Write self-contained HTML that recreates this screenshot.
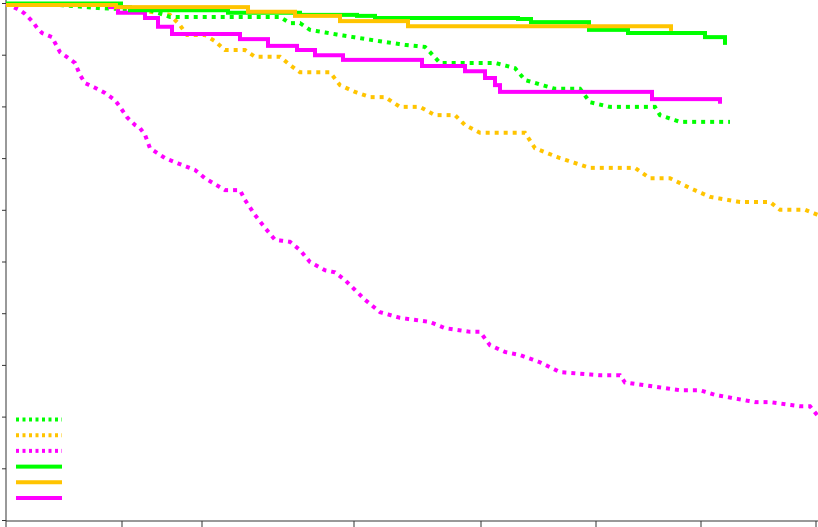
<!DOCTYPE html>
<html><head><meta charset="utf-8"><style>
html,body{margin:0;padding:0;background:#fff;}
svg{display:block;font-family:"Liberation Sans",sans-serif;}
</style></head><body>
<svg id="chart" width="818" height="527" viewBox="0 0 818 527" xmlns="http://www.w3.org/2000/svg"></svg>
<script>
// Data (time in axis units, survival proportion)
const yTicks = [0,0.1,0.2,0.3,0.4,0.5,0.6,0.7,0.8,0.9,1.0];
const xTicks = [0,116,196,348,475,590,695,810];

const greenSolidT = [0,115,124,222,294,351,369,512,525,583,622,699,719];
const greenSolidS = [1.0,0.993,0.987,0.982,0.978,0.976,0.972,0.97,0.964,0.949,0.943,0.935,0.926];
const greenSolidEnd = 719; const greenSolidEndS = 0.92;

const yellowSolidT = [0,110,242,289,334,402];
const yellowSolidS = [0.997,0.993,0.984,0.976,0.966,0.956];
const yellowSolidEnd = 665; const yellowSolidEndS = 0.947;

const magentaSolidT = [0,104,112,139,152,166,234,262,291,309,337,416,459,479,489,494,646];
const magentaSolidS = [1.0,0.993,0.982,0.972,0.955,0.941,0.931,0.918,0.91,0.9,0.891,0.879,0.869,0.856,0.842,0.829,0.815];
const magentaSolidEnd = 714; const magentaSolidEndS = 0.806;

const greenDotT = [0,54,94,144,164,274,284,294,304,334,374,399,419,424,434,489,509,519,549,574,584,604,649,654,674,724];
const greenDotS = [1.0,0.997,0.991,0.987,0.974,0.974,0.962,0.962,0.949,0.939,0.927,0.92,0.916,0.906,0.885,0.885,0.875,0.852,0.835,0.835,0.809,0.8,0.8,0.784,0.771,0.771];

const yellowDotT = [0,104,124,144,164,174,181,199,209,219,239,249,274,284,294,324,334,349,364,379,394,414,429,449,459,474,519,529,554,584,629,644,664,684,704,734,764,774,799,812];
const yellowDotS = [1.0,0.997,0.991,0.984,0.978,0.958,0.939,0.939,0.927,0.91,0.91,0.897,0.897,0.881,0.867,0.867,0.842,0.829,0.819,0.819,0.8,0.8,0.784,0.784,0.765,0.75,0.75,0.72,0.701,0.682,0.682,0.662,0.662,0.643,0.626,0.616,0.616,0.601,0.601,0.591];

const magentaDotT = [0,14,19,27,31,36,46,49,54,62,69,74,79,89,99,109,114,121,129,134,139,144,159,169,189,199,219,234,239,249,259,269,284,294,304,319,329,339,349,359,374,394,409,424,439,464,474,484,499,514,534,554,594,614,619,674,694,709,749,764,794,804,812];
const magentaDotS = [1.0,0.987,0.98,0.964,0.953,0.943,0.935,0.924,0.906,0.895,0.885,0.862,0.846,0.837,0.827,0.813,0.8,0.78,0.765,0.759,0.746,0.72,0.701,0.693,0.678,0.662,0.639,0.639,0.62,0.591,0.566,0.543,0.539,0.523,0.5,0.484,0.48,0.465,0.446,0.427,0.403,0.392,0.388,0.384,0.372,0.365,0.365,0.339,0.326,0.32,0.306,0.287,0.281,0.281,0.267,0.252,0.252,0.243,0.229,0.229,0.221,0.221,0.202];

const legendColors = ['#00ff00','#ffc400','#ff00ff','#00ff00','#ffc400','#ff00ff'];
const legendDashed = [true,true,true,false,false,false];

const NS='http://www.w3.org/2000/svg';
const svg=document.getElementById('chart');
const X0=6, X1=818, Y0=520.5, Y1=3.5;
function xs(t){return X0+t;}
function ys(s){return Y0-(Y0-Y1)*s;}
function mk(tag,attrs){const e=document.createElementNS(NS,tag);for(const k in attrs)e.setAttribute(k,attrs[k]);svg.appendChild(e);return e;}

// axes
const ya=mk('line',{x1:X0,y1:0,x2:X0,y2:521,stroke:'#333','stroke-width':1});


const xa=mk('line',{x1:X0,y1:521,x2:818,y2:521,stroke:'#333','stroke-width':1});


yTicks.forEach(v=>{const t=mk('line',{x1:X0-4,y1:ys(v),x2:X0,y2:ys(v),stroke:'#333','stroke-width':1});

});
xTicks.forEach(v=>{const t=mk('line',{x1:xs(v),y1:521,x2:xs(v),y2:527,stroke:'#333','stroke-width':1});

});

function stepPath(T,S,endT,endS){let d='M'+xs(T[0])+','+ys(S[0]);
for(let i=1;i<T.length;i++){d+=' H'+xs(T[i])+' V'+ys(S[i]);}
if(endT!==undefined){d+=' H'+xs(endT)+' V'+ys(endS);}return d;}
function linePath(T,S){return T.map((t,i)=>(i?'L':'M')+xs(t)+','+ys(S[i])).join(' ');}

function series(d,color,dashed,name){const p=mk('path',{d:d,fill:'none',stroke:color,'stroke-width':4,'stroke-dasharray':dashed?'4,5':'none'});

}
series(linePath(magentaDotT,magentaDotS),'#ff00ff',true,'magenta-dotted-curve');
series(linePath(yellowDotT,yellowDotS),'#ffc400',true,'yellow-dotted-curve');
series(linePath(greenDotT,greenDotS),'#00ff00',true,'green-dotted-curve');
series(stepPath(magentaSolidT,magentaSolidS,magentaSolidEnd,magentaSolidEndS),'#ff00ff',false,'magenta-solid-curve');
series(stepPath(greenSolidT,greenSolidS,greenSolidEnd,greenSolidEndS),'#00ff00',false,'green-solid-curve');
series(stepPath(yellowSolidT,yellowSolidS,yellowSolidEnd,yellowSolidEndS),'#ffc400',false,'yellow-solid-curve');

// legend
legendColors.forEach((c,i)=>{const y=419.5+i*15.7;
const l=mk('line',{x1:16,y1:y,x2:62,y2:y,stroke:c,'stroke-width':4,'stroke-dasharray':legendDashed[i]?'3,3.5':'none'});

});
</script>
</body></html>
